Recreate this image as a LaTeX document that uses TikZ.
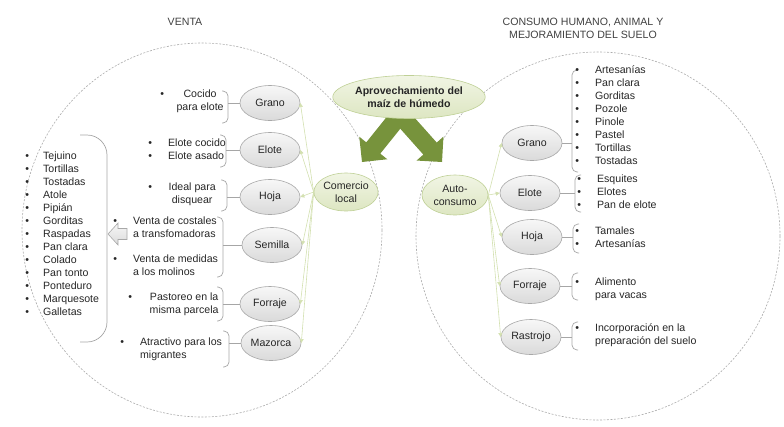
\documentclass[tikz,border=0pt]{standalone}
\usepackage{fontspec}
\setmainfont{Liberation Sans}
\usetikzlibrary{arrows.meta,calc,shapes.geometric}
\definecolor{txt}{HTML}{262626}
\definecolor{ttl}{HTML}{404040}
\definecolor{circ}{HTML}{ABABAB}
\definecolor{brkc}{HTML}{A6A6A6}
\definecolor{connc}{HTML}{D3E0B0}
\definecolor{gtop}{HTML}{F1F5E4}
\definecolor{gbot}{HTML}{DDE6C2}
\definecolor{gdraw}{HTML}{BFD096}
\definecolor{ntop}{HTML}{F7F7F7}
\definecolor{nbot}{HTML}{DADADA}
\definecolor{ndraw}{HTML}{A8A8A8}
\definecolor{agreen}{HTML}{77933C}
\newcommand{\mybul}{\textbullet}
\begin{document}
\begin{tikzpicture}[x=1pt,y=-1pt,
  font=\fontsize{10.6}{13}\selectfont, text=txt,
  gnode/.style={ellipse, draw=ndraw, line width=0.6pt, top color=ntop, bottom color=nbot,
    minimum width=60pt, minimum height=35pt, inner sep=0pt},
  grnode/.style={ellipse, draw=gdraw, line width=0.6pt, top color=gtop, bottom color=gbot,
    inner sep=0pt, align=center},
  conn/.style={draw=connc, line width=0.6pt, -{Triangle[length=4pt,width=4pt]}},
  brk/.style={draw=brkc, line width=0.7pt, rounded corners=5pt},
  lst/.style={anchor=west, inner sep=0pt, align=left},
  circl/.style={draw=circ, line width=0.6pt, dash pattern=on 2pt off 1.5pt},
  bigarrow/.style={fill=agreen, draw=none}
]
\useasboundingbox (0,0) rectangle (784,426);

% dashed circles
\draw[circl] (202,230) ellipse [x radius=180, y radius=187];
\draw[circl] (598,236) ellipse [x radius=182, y radius=184];

% titles
\node[text=ttl] (tventa) at (185,22) {VENTA};
\node[text=ttl, align=center] (tcons) at (583,28.5) {CONSUMO HUMANO, ANIMAL Y\\MEJORAMIENTO DEL SUELO};

% left nodes
\node[gnode] (lgrano) at (270,103) {Grano};
\node[gnode] (lelote) at (270,150) {Elote};
\node[gnode] (lhoja) at (270,197) {Hoja};
\node[gnode] (lsemilla) at (272,245) {Semilla};
\node[gnode] (lforraje) at (270,304) {Forraje};
\node[gnode] (lmazorca) at (271,343) {Mazorca};
\node[grnode, minimum width=64pt, minimum height=38pt] (com) at (346,192) {Comercio\\local};

% right nodes
\node[gnode] (rgrano) at (532,143) {Grano};
\node[gnode] (relote) at (530,193) {Elote};
\node[gnode] (rhoja) at (532,237) {Hoja};
\node[gnode] (rforraje) at (530,286) {Forraje};
\node[gnode] (rrastrojo) at (531,337) {Rastrojo};
\node[grnode, minimum width=66pt, minimum height=40pt] (auto) at (455,195) {Auto-\\consumo};

% connectors
\foreach \n in {lgrano,lelote,lhoja,lsemilla,lforraje,lmazorca}
  \draw[conn] (com.west) -- (\n.east);
\foreach \n in {rgrano,relote,rhoja,rforraje,rrastrojo}
  \draw[conn] (auto.east) -- (\n.west);

% big green arrows
\coordinate (la1) at (399,116);
\coordinate (la2) at (362,162);
\coordinate (ra1) at (401,116);
\coordinate (ra2) at (442,162);
\coordinate (lab) at ($(la2)!18pt!(la1)$);
\coordinate (rab) at ($(ra2)!18pt!(ra1)$);
\fill[bigarrow] ($(la1)!9pt!90:(la2)$) -- ($(lab)!9pt!90:(la2)$) -- ($(lab)!18pt!90:(la2)$) -- (la2)
  -- ($(lab)!18pt!-90:(la2)$) -- ($(lab)!9pt!-90:(la2)$) -- ($(la1)!9pt!-90:(la2)$) -- cycle;
\fill[bigarrow] ($(ra1)!9pt!90:(ra2)$) -- ($(rab)!9pt!90:(ra2)$) -- ($(rab)!18pt!90:(ra2)$) -- (ra2)
  -- ($(rab)!18pt!-90:(ra2)$) -- ($(rab)!9pt!-90:(ra2)$) -- ($(ra1)!9pt!-90:(ra2)$) -- cycle;

% top node
\node[grnode, minimum width=142pt, minimum height=43pt, font=\fontsize{10.6}{13}\selectfont\bfseries] (apro) at (409,97) {Aprovechamiento del\\maíz de húmedo};

% left brackets
\draw[brk] (222,91) -- (228,91) -- (228,123) -- (222,123);
\coordinate (bl1) at (228,103); \draw[brk] (bl1) -- (lgrano.west);
\draw[brk] (220,135) -- (226,135) -- (226,167) -- (220,167);
\coordinate (bl2) at (226,150); \draw[brk] (bl2) -- (lelote.west);
\draw[brk] (221,180) -- (227,180) -- (227,211) -- (221,211);
\coordinate (bl3) at (227,197); \draw[brk] (bl3) -- (lhoja.west);
\draw[brk] (217,217) -- (223,217) -- (223,277) -- (217,277);
\coordinate (bl4) at (223,245); \draw[brk] (bl4) -- (lsemilla.west);
\draw[brk] (217,287) -- (223,287) -- (223,321) -- (217,321);
\coordinate (bl5) at (223,304); \draw[brk] (bl5) -- (lforraje.west);
\draw[brk] (223,331) -- (229,331) -- (229,367) -- (223,367);
\coordinate (bl6) at (229,343); \draw[brk] (bl6) -- (lmazorca.west);

% big left bracket and block arrow
\draw[brk, rounded corners=20pt] (80,135) -- (107,135) -- (107,342) -- (80,342);
\draw[draw=ndraw, line width=0.6pt, top color=ntop, bottom color=nbot]
  (108,234) -- (118,223) -- (118,228.5) -- (127,228.5) -- (127,239.5) -- (118,239.5) -- (118,245) -- cycle;

% right brackets
\draw[brk] (578,70) -- (572,70) -- (572,172) -- (578,172);
\coordinate (br1) at (572,143); \draw[brk] (rgrano.east) -- (br1);
\draw[brk] (581,175) -- (575,175) -- (575,212) -- (581,212);
\coordinate (br2) at (575,193); \draw[brk] (relote.east) -- (br2);
\draw[brk] (579,224) -- (573,224) -- (573,253) -- (579,253);
\coordinate (br3) at (573,237); \draw[brk] (rhoja.east) -- (br3);
\draw[brk] (578,273) -- (572,273) -- (572,300) -- (578,300);
\coordinate (br4) at (572,286); \draw[brk] (rforraje.east) -- (br4);
\draw[brk] (578,322) -- (572,322) -- (572,350) -- (578,350);
\coordinate (br5) at (572,337); \draw[brk] (rrastrojo.east) -- (br5);

% left lists
\node[lst] (ltej) at (25.1,235) {\begin{tabular}{@{}l@{\hspace{14.1pt}}l@{}}
\mybul & Tejuino\\ \mybul & Tortillas\\ \mybul & Tostadas\\ \mybul & Atole\\ \mybul & Pipián\\
\mybul & Gorditas\\ \mybul & Raspadas\\ \mybul & Pan clara\\ \mybul & Colado\\ \mybul & Pan tonto\\
\mybul & Ponteduro\\ \mybul & Marquesote\\ \mybul & Galletas\end{tabular}};
\node[lst] (lt1) at (160.1,101.5) {\begin{tabular}{@{}l@{\hspace{12.5pt}}c@{}}
\mybul & Cocido\\ & para elote\end{tabular}};
\node[lst] (lt2) at (148.1,150) {\begin{tabular}{@{}l@{\hspace{16.1pt}}l@{}}
\mybul & Elote cocido\\ \mybul & Elote asado\end{tabular}};
\node[lst] (lt3) at (148.1,194.5) {\begin{tabular}{@{}l@{\hspace{16.6pt}}c@{}}
\mybul & Ideal para\\ & disquear\end{tabular}};
\node[lst] (lt4) at (113.1,247.5) {\begin{tabular}{@{}l@{\hspace{16.1pt}}l@{}}
\mybul & Venta de costales\\ & a transfomadoras\\[12pt] \mybul & Venta de medidas\\ & a los molinos\end{tabular}};
\node[lst] (lt5) at (128.1,304.5) {\begin{tabular}{@{}l@{\hspace{17.7pt}}c@{}}
\mybul & Pastoreo en la\\ & misma parcela\end{tabular}};
\node[lst] (lt6) at (120.1,349.5) {\begin{tabular}{@{}l@{\hspace{16.1pt}}l@{}}
\mybul & Atractivo para los\\ & migrantes\end{tabular}};

% right lists
\node[lst] (rt1) at (575.1,116.5) {\begin{tabular}{@{}l@{\hspace{16.1pt}}l@{}}
\mybul & Artesanías\\ \mybul & Pan clara\\ \mybul & Gorditas\\ \mybul & Pozole\\ \mybul & Pinole\\
\mybul & Pastel\\ \mybul & Tortillas\\ \mybul & Tostadas\end{tabular}};
\node[lst] (rt2) at (577.1,192.5) {\begin{tabular}{@{}l@{\hspace{16.1pt}}l@{}}
\mybul & Esquites\\ \mybul & Elotes\\ \mybul & Pan de elote\end{tabular}};
\node[lst] (rt3) at (575.1,238.5) {\begin{tabular}{@{}l@{\hspace{16.1pt}}l@{}}
\mybul & Tamales\\ \mybul & Artesanías\end{tabular}};
\node[lst] (rt4) at (575.1,289.5) {\begin{tabular}{@{}l@{\hspace{16.1pt}}l@{}}
\mybul & Alimento\\ & para vacas\end{tabular}};
\node[lst] (rt5) at (575.1,335) {\begin{tabular}{@{}l@{\hspace{16.1pt}}l@{}}
\mybul & Incorporación en la\\ & preparación del suelo\end{tabular}};
\end{tikzpicture}
\end{document}
